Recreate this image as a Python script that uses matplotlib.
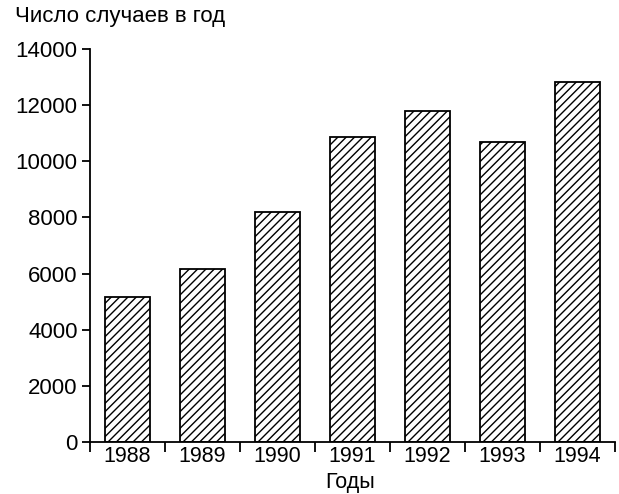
import matplotlib
matplotlib.use('Agg')
import matplotlib.pyplot as plt
import numpy as np

# Данные
years = ['1988', '1989', '1990', '1991', '1992', '1993', '1994']
cases = [5150, 6150, 8180, 10850, 11780, 10700, 12830]

plt.rcParams['font.family'] = ['Liberation Sans', 'DejaVu Sans']
plt.rcParams['hatch.linewidth'] = 1.0

fig = plt.figure(figsize=(6.19, 4.94), dpi=100)
ax = fig.add_axes([0.1454, 0.1053, 0.848, 0.7955])

x = np.arange(len(years))
ax.bar(x, cases, width=0.59, color='white', edgecolor='black',
       linewidth=1.3, hatch='////')

ax.set_xlim(-0.5, len(years) - 0.5)
ax.set_ylim(0, 14000)
ax.set_yticks(np.arange(0, 14001, 2000))
ax.set_xticks(x)
ax.set_xticklabels(years)
ax.set_xticks(np.arange(-0.5, len(years), 1.0), minor=True)
ax.tick_params(axis='x', which='major', length=0, labelsize=15.5, pad=3)
ax.tick_params(axis='x', which='minor', length=7, width=1.3, direction='out')
ax.tick_params(axis='y', length=6, width=1.3, labelsize=16, pad=3)

for side in ['top', 'right']:
    ax.spines[side].set_visible(False)
for side in ['left', 'bottom']:
    ax.spines[side].set_linewidth(1.3)

fig.text(0.024, 0.966, 'Число случаев в год', fontsize=16, ha='left', va='center')
fig.text(0.566, 0.024, 'Годы', fontsize=15.5, ha='center', va='center')

fig.savefig('out.png', dpi=100)
